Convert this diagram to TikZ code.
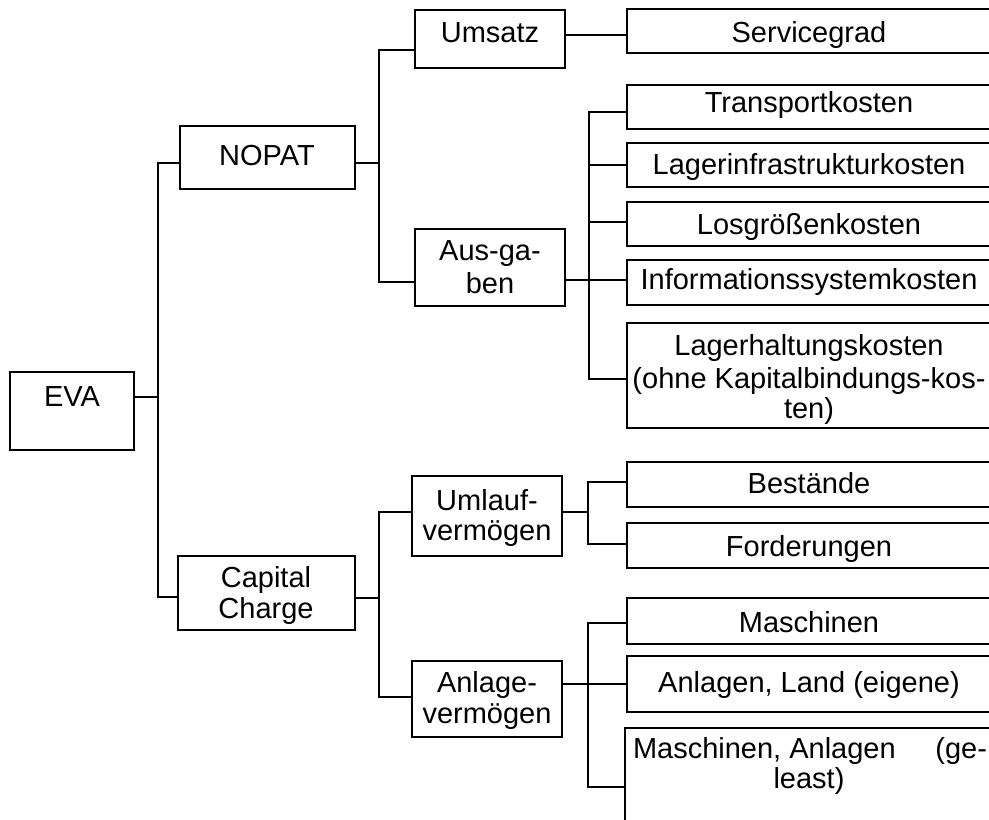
\documentclass[tikz,border=0pt]{standalone}
\usepackage{fontspec}
\setmainfont{Liberation Sans}
% box: name, x1, y1, x2, y2 (top-left / bottom-right corner)
\newcommand\treebox[5]{%
  \node[box, minimum width={#4-#2}, minimum height={#5-#3}] (#1) at (#2,#3) {};}
\begin{document}
\begin{tikzpicture}[x=1pt,y=-1pt,
  box/.style={draw, line width=1.8pt, inner sep=0pt, outer sep=0pt, anchor=north west},
  txt/.style={anchor=base, inner sep=0pt, font=\fontsize{29}{33}\selectfont},
  conn/.style={line width=2.2pt}]
\useasboundingbox (0,0) rectangle (989,820);
\clip (0,0) rectangle (989,820);

% level 0 and 1
\treebox{eva}{10}{372}{134}{450}
\treebox{nopat}{180}{126}{355}{189}
\treebox{capital}{178}{556}{355}{630}
% level 2
\treebox{umsatz}{415}{10}{565}{68}
\treebox{ausgaben}{415}{229}{565}{306}
\treebox{umlauf}{412}{476}{562}{556}
\treebox{anlage}{412}{661}{562}{737}
% level 3
\treebox{service}{627}{9}{995}{53}
\treebox{transport}{627}{85}{995}{129}
\treebox{lagerinfra}{627}{143}{995}{187}
\treebox{losgr}{627}{202}{995}{246}
\treebox{info}{627}{260}{995}{305}
\treebox{lagerhalt}{627}{323}{995}{428}
\treebox{bestaende}{627}{462}{995}{507}
\treebox{forder}{627}{523}{995}{568}
\treebox{masch}{627}{598}{995}{644}
\treebox{land}{627}{656}{995}{712}
\treebox{geleast}{625}{728}{995}{845}

% texts
\node[txt] (t-eva) at (72,406) {EVA};
\node[txt] (t-nopat) at (267,165) {NOPAT};
\node[txt] (t-cap1) at (266,587) {Capital};
\node[txt] (t-cap2) at (266,618) {Charge};
\node[txt] (t-umsatz) at (490,42) {Umsatz};
\node[txt] (t-aus1) at (490,260) {Aus-ga-};
\node[txt] (t-aus2) at (490,293) {ben};
\node[txt] (t-uml1) at (487,510) {Umlauf-};
\node[txt] (t-uml2) at (487,540) {vermögen};
\node[txt] (t-anl1) at (487,692) {Anlage-};
\node[txt] (t-anl2) at (487,723) {vermögen};
\node[txt] (t-service) at (809,42) {Servicegrad};
\node[txt] (t-transport) at (809,112) {Transportkosten};
\node[txt] (t-lagerinfra) at (809,174) {Lagerinfrastrukturkosten};
\node[txt] (t-losgr) at (809,234) {Losgrößenkosten};
\node[txt] (t-info) at (809,289) {Informationssystemkosten};
\node[txt] (t-lh1) at (809,355) {Lagerhaltungskosten};
\node[txt] (t-lh2) at (809,388) {(ohne Kapitalbindungs-kos-};
\node[txt] (t-lh3) at (809,418) {ten)};
\node[txt] (t-bestaende) at (809,493) {Bestände};
\node[txt] (t-forder) at (809,556) {Forderungen};
\node[txt] (t-masch) at (809,632) {Maschinen};
\node[txt] (t-land) at (809,692) {Anlagen, Land (eigene)};
\node[txt] (t-gel1) at (810,758) {\hbox to 354pt{Maschinen, Anlagen\hfill(ge-}};
\node[txt] (t-gel2) at (809,788) {least)};

% spine positions
\coordinate (s0) at (158,0);
\coordinate (s1) at (379,0);
\coordinate (s2) at (589,0);
\coordinate (s3) at (588,0);

% EVA
\draw[conn] (eva.east |- 0,397) -- (s0 |- 0,397);
\draw[conn] (nopat.west |- 0,163) -| (s0 |- 0,597) -- (capital.west |- 0,597);
% NOPAT
\draw[conn] (nopat.east |- 0,163) -- (s1 |- 0,163);
\draw[conn] (umsatz.west |- 0,50) -| (s1 |- 0,282) -- (ausgaben.west |- 0,282);
% Umsatz
\draw[conn] (umsatz.east |- 0,35) -- (service.west |- 0,35);
% Ausgaben
\draw[conn] (ausgaben.east |- 0,280) -- (info.west |- 0,280);
\draw[conn] (transport.west |- 0,112) -| (s2 |- 0,379) -- (lagerhalt.west |- 0,379);
\draw[conn] (s2 |- 0,165) -- (lagerinfra.west |- 0,165);
\draw[conn] (s2 |- 0,222) -- (losgr.west |- 0,222);
% Capital Charge
\draw[conn] (capital.east |- 0,598) -- (s1 |- 0,598);
\draw[conn] (umlauf.west |- 0,512) -| (s1 |- 0,697) -- (anlage.west |- 0,697);
% Umlaufvermoegen
\draw[conn] (umlauf.east |- 0,512) -- (s3 |- 0,512);
\draw[conn] (bestaende.west |- 0,482) -| (s3 |- 0,544) -- (forder.west |- 0,544);
% Anlagevermoegen
\draw[conn] (anlage.east |- 0,684) -- (land.west |- 0,684);
\draw[conn] (masch.west |- 0,623) -| (s3 |- 0,787) -- (geleast.west |- 0,787);
\end{tikzpicture}
\end{document}
